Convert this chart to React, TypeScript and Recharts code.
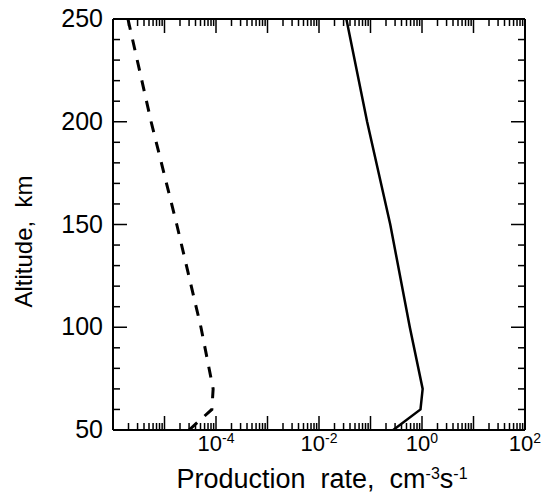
import React from 'react';
import { ScatterChart, Scatter, XAxis, YAxis } from 'recharts';

// altitude levels (km) where both profiles are read
const altitude = [250, 200, 150, 100, 70, 60, 50];
// production rate, cm^-3 s^-1
const solidRate = [0.034, 0.086, 0.242, 0.58, 1.03, 0.935, 0.276];
const dashedRate = [1.95e-6, 5.5e-6, 1.73e-5, 5.1e-5, 8.8e-5, 8.3e-5, 3.0e-5];

const decades = [1e-6, 1e-5, 1e-4, 1e-3, 1e-2, 1e-1, 1, 10, 100];
const minorSteps = [2, 3, 4, 5, 6, 7, 8, 9];
const labelledDecades = [1e-4, 1e-2, 1, 100];
const labelledExponents = ['-4', '-2', '0', '2'];

const altTicks = [50, 60, 70, 80, 90, 100, 110, 120, 130, 140, 150, 160, 170, 180, 190, 200, 210, 220, 230, 240, 250];
const altLabels = [50, 100, 150, 200, 250];

const xTicks = decades.concat(
    decades.slice(0, -1).flatMap((d) => minorSteps.map((m) => d * m))
);

const solidData = altitude.map((alt, i) => ({ alt, rate: solidRate[i] }));
const dashedData = altitude.map((alt, i) => ({ alt, rate: dashedRate[i] }));

const FONT = '"Liberation Sans", Arial, Helvetica, sans-serif';
const MAJOR = 14;
const MINOR = 7;

const same = (a: number, b: number) => Math.abs(Math.log10(a) - Math.log10(b)) < 1e-6;
const isDecade = (v: number) => decades.some((d) => same(d, v));

const BottomTick = (props: any) => {
    const { x, y, payload } = props;
    const v = payload.value;
    const idx = labelledDecades.findIndex((d) => same(d, v));
    return (
        <g>
            <line x1={x} y1={y} x2={x} y2={y - (isDecade(v) ? MAJOR : MINOR)} stroke="#000" strokeWidth={1.5} />
            {idx >= 0 && (
                <text x={x} y={y + 21} textAnchor="middle" fontSize={22} fontFamily={FONT} fill="#000">
                    10
                    <tspan fontSize={14} dy={-8}>{labelledExponents[idx]}</tspan>
                </text>
            )}
        </g>
    );
};

const TopTick = (props: any) => {
    const { x, y, payload } = props;
    return <line x1={x} y1={y} x2={x} y2={y + (isDecade(payload.value) ? MAJOR : MINOR)} stroke="#000" strokeWidth={1.5} />;
};

const LeftTick = (props: any) => {
    const { x, y, payload } = props;
    const major = altLabels.includes(payload.value);
    return (
        <g>
            <line x1={x} y1={y} x2={x + (major ? MAJOR : MINOR)} y2={y} stroke="#000" strokeWidth={1.5} />
            {major && (
                <text x={x - 10} y={y + 8} textAnchor="end" fontSize={25} fontFamily={FONT} fill="#000">
                    {payload.value}
                </text>
            )}
        </g>
    );
};

const RightTick = (props: any) => {
    const { x, y, payload } = props;
    const major = altLabels.includes(payload.value);
    return <line x1={x} y1={y} x2={x - (major ? MAJOR : MINOR)} y2={y} stroke="#000" strokeWidth={1.5} />;
};

const BottomTitle = (props: any) => {
    const { x, y, width } = props.viewBox;
    return (
        <text
            x={x + width / 2 + 3}
            y={y + 58}
            textAnchor="middle"
            fontSize={27}
            fontFamily={FONT}
            fill="#000"
            xmlSpace="preserve"
        >
            Production  rate,  cm
            <tspan fontSize={16} dy={-9}>-3</tspan>
            <tspan dy={9}>s</tspan>
            <tspan fontSize={16} dy={-9}>-1</tspan>
        </text>
    );
};

const LeftTitle = (props: any) => {
    const { y, height } = props.viewBox;
    const cx = 32;
    const cy = y + height / 2 + 17;
    return (
        <text
            x={cx}
            y={cy}
            transform={`rotate(-90, ${cx}, ${cy})`}
            textAnchor="middle"
            fontSize={24}
            fontFamily={FONT}
            fill="#000"
            xmlSpace="preserve"
        >
            Altitude,  km
        </text>
    );
};

const axisLine = { stroke: '#000', strokeWidth: 2 };

export default function App() {
    return (
        <div style={{ position: 'absolute', left: 0, top: 0, width: 544, height: 499, background: '#fff' }}>
            <ScatterChart width={544} height={499} margin={{ top: 18, right: 18, bottom: 29, left: 53 }}>
                <XAxis
                    xAxisId="bottom"
                    dataKey="rate"
                    type="number"
                    scale="log"
                    domain={[1e-6, 100]}
                    allowDataOverflow
                    ticks={xTicks}
                    interval={0}
                    tickSize={0}
                    tickMargin={0}
                    tickLine={false}
                    axisLine={axisLine}
                    tick={<BottomTick />}
                    height={40}
                    label={{ content: <BottomTitle /> }}
                />
                <XAxis
                    xAxisId="top"
                    orientation="top"
                    dataKey="rate"
                    type="number"
                    scale="log"
                    domain={[1e-6, 100]}
                    allowDataOverflow
                    ticks={xTicks}
                    interval={0}
                    tickSize={0}
                    tickMargin={0}
                    tickLine={false}
                    axisLine={axisLine}
                    tick={<TopTick />}
                    height={1}
                />
                <YAxis
                    yAxisId="left"
                    dataKey="alt"
                    type="number"
                    domain={[50, 250]}
                    allowDataOverflow
                    ticks={altTicks}
                    interval={0}
                    tickSize={0}
                    tickMargin={0}
                    tickLine={false}
                    axisLine={axisLine}
                    tick={<LeftTick />}
                    width={60}
                    label={{ content: <LeftTitle /> }}
                />
                <YAxis
                    yAxisId="right"
                    orientation="right"
                    dataKey="alt"
                    type="number"
                    domain={[50, 250]}
                    allowDataOverflow
                    ticks={altTicks}
                    interval={0}
                    tickSize={0}
                    tickMargin={0}
                    tickLine={false}
                    axisLine={axisLine}
                    tick={<RightTick />}
                    width={1}
                />
                <Scatter
                    data={solidData}
                    xAxisId="bottom"
                    yAxisId="left"
                    fill="none"
                    line={{ stroke: '#000', strokeWidth: 2.5 }}
                    shape={() => <g />}
                    isAnimationActive={false}
                />
                <Scatter
                    data={dashedData}
                    xAxisId="bottom"
                    yAxisId="left"
                    fill="none"
                    line={{ stroke: '#000', strokeWidth: 3, strokeDasharray: '11 10' }}
                    shape={() => <g />}
                    isAnimationActive={false}
                />
            </ScatterChart>
        </div>
    );
}
